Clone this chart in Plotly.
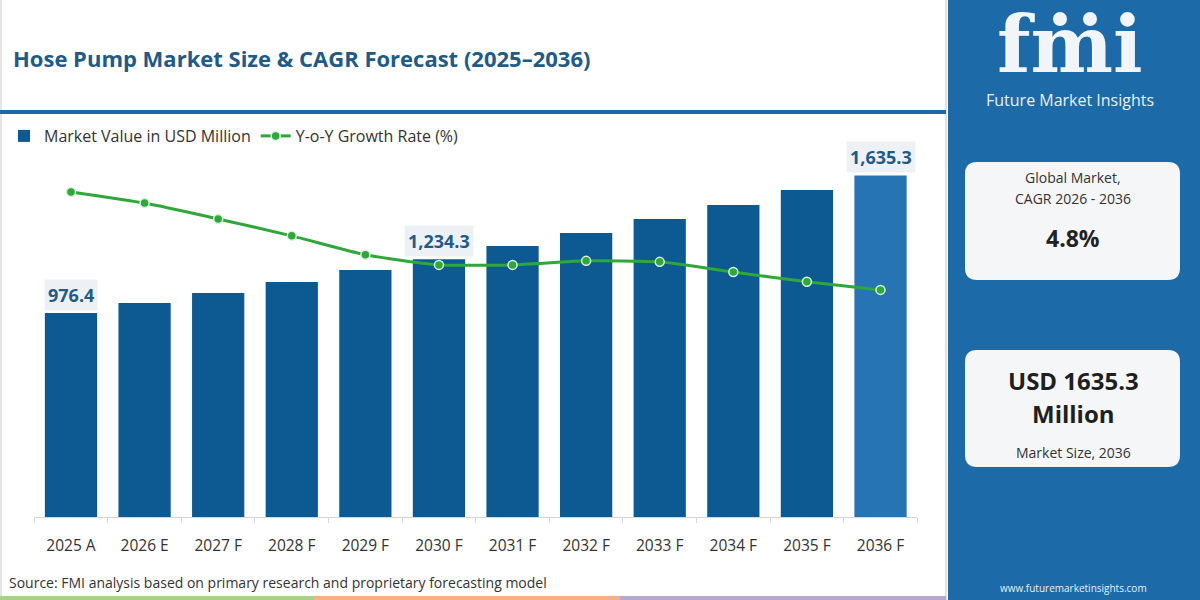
import plotly.graph_objects as go

# ---------------- data ----------------
years = ["2025 A", "2026 E", "2027 F", "2028 F", "2029 F", "2030 F",
         "2031 F", "2032 F", "2033 F", "2034 F", "2035 F", "2036 F"]
market_value = [976.4, 1024.0, 1072.0, 1125.0, 1182.0, 1234.3,
                1297.0, 1359.0, 1426.0, 1493.0, 1565.0, 1635.3]
yoy_growth = [6.20, 5.87, 5.40, 4.90, 4.34, 4.04,
              4.04, 4.16, 4.13, 3.83, 3.54, 3.30]
labelled_years = ["2025 A", "2030 F", "2036 F"]
labelled_text = ["976.4", "1,234.3", "1,635.3"]

title_text = "Hose Pump Market Size & CAGR Forecast (2025\u20132036)"
source_text = "Source: FMI analysis based on primary research and proprietary forecasting model"
cagr_lines = ["Global Market,", "CAGR 2026 - 2036"]
cagr_value = "4.8%"
size_value = ["USD 1635.3", "Million"]
size_caption = "Market Size, 2036"

# ---------------- styling ----------------
W, H = 1200, 600
FONT = "Open Sans"
BAR = "#0d5a93"
BAR_LAST = "#2774b4"
GREEN = "#2ea83a"
TITLE_C = "#1e5b88"
PANEL = "#1d6aa9"
TEXT = "#333333"


def px(x):
    return x / W


def py(y):
    return 1 - y / H


def rounded_rect(x0, y0, x1, y1, r):
    X0, X1 = px(x0), px(x1)
    Y0, Y1 = py(y0), py(y1)  # Y0 top (bigger), Y1 bottom
    rx, ry = r / W, r / H
    return (f"M{X0+rx},{Y0} L{X1-rx},{Y0} Q{X1},{Y0} {X1},{Y0-ry} "
            f"L{X1},{Y1+ry} Q{X1},{Y1} {X1-rx},{Y1} L{X0+rx},{Y1} "
            f"Q{X0},{Y1} {X0},{Y1+ry} L{X0},{Y0-ry} Q{X0},{Y0} {X0+rx},{Y0} Z")


bar_colors = [BAR] * (len(years) - 1) + [BAR_LAST]

fig = go.Figure()
fig.add_trace(go.Bar(
    x=years, y=market_value, name="Market Value in USD Million",
    marker=dict(color=bar_colors, line=dict(width=0)), width=0.71,
    yaxis="y",
))
fig.add_trace(go.Scatter(
    x=years, y=yoy_growth, name="Y-o-Y Growth Rate (%)", mode="lines+markers",
    line=dict(color=GREEN, width=3, shape="spline", smoothing=0.5),
    marker=dict(color=GREEN, size=9, line=dict(color="#d9f2dc", width=1.5)),
    yaxis="y2",
))

shapes = []
annotations = []

# right blue panel
shapes.append(dict(type="rect", xref="paper", yref="paper", x0=px(948), x1=px(1200),
                   y0=0, y1=1, fillcolor=PANEL, line=dict(width=0), layer="below"))
shapes.append(dict(type="line", xref="paper", yref="paper", x0=px(946), x1=px(946),
                   y0=0, y1=1, line=dict(color="#d8d8d8", width=1.5), layer="below"))
# blue rule under title
shapes.append(dict(type="line", xref="paper", yref="paper", x0=0, x1=px(946),
                   y0=py(112), y1=py(112), line=dict(color=PANEL, width=4)))
# left thin border
shapes.append(dict(type="line", xref="paper", yref="paper", x0=px(1), x1=px(1),
                   y0=0, y1=1, line=dict(color="#dddddd", width=1.5), layer="below"))
# bottom colored strip
for x0, x1, c in [(0, 314, "#a9d18e"), (314, 620, "#f4b183"), (620, 946, "#b4a7d6")]:
    shapes.append(dict(type="rect", xref="paper", yref="paper", x0=px(x0), x1=px(x1),
                       y0=0, y1=py(596), fillcolor=c, line=dict(width=0)))
# white info boxes
shapes.append(dict(type="path", xref="paper", yref="paper",
                   path=rounded_rect(965, 162, 1180, 280, 12),
                   fillcolor="#f5f6f8", line=dict(width=0)))
shapes.append(dict(type="path", xref="paper", yref="paper",
                   path=rounded_rect(965, 350, 1180, 467, 12),
                   fillcolor="#f5f6f8", line=dict(width=0)))
# logo globe dots above the "m"
for cx in [1060, 1090]:
    shapes.append(dict(type="circle", xref="paper", yref="paper",
                       x0=px(cx - 7), x1=px(cx + 7), y0=py(26), y1=py(12),
                       fillcolor="#f2f5f8", line=dict(width=0)))

# title
annotations.append(dict(text=f"<b>{title_text}</b>", xref="paper", yref="paper",
                        x=px(11), y=py(58), xanchor="left", yanchor="middle",
                        showarrow=False, font=dict(family=FONT, size=22, color=TITLE_C)))
# source
annotations.append(dict(text=source_text, xref="paper", yref="paper",
                        x=px(7), y=py(582), xanchor="left", yanchor="middle",
                        showarrow=False, font=dict(family=FONT, size=14, color=TEXT)))
# logo text
annotations.append(dict(text="<b>fmi</b>", xref="paper", yref="paper",
                        x=px(1070), y=py(44), xanchor="center", yanchor="middle",
                        height=70, valign="middle", showarrow=False,
                        font=dict(family="DejaVu Serif", size=78, color="#f2f5f8")))
annotations.append(dict(text="Future Market Insights", xref="paper", yref="paper",
                        x=px(1070), y=py(100), xanchor="center", yanchor="middle",
                        showarrow=False, font=dict(family=FONT, size=16, color="#e8eef5")))
annotations.append(dict(text="www.futuremarketinsights.com", xref="paper", yref="paper",
                        x=px(1073), y=py(588), xanchor="center", yanchor="middle",
                        showarrow=False, font=dict(family=FONT, size=10, color="#e8eef5")))
# box 1
for t, yy in zip(cagr_lines, [178, 198]):
    annotations.append(dict(text=t, xref="paper", yref="paper", x=px(1073), y=py(yy),
                            xanchor="center", yanchor="middle", showarrow=False,
                            font=dict(family=FONT, size=14, color=TEXT)))
annotations.append(dict(text=f"<b>{cagr_value}</b>", xref="paper", yref="paper",
                        x=px(1073), y=py(238), xanchor="center", yanchor="middle",
                        showarrow=False, font=dict(family=FONT, size=23, color="#222222")))
# box 2
for t, yy in zip(size_value, [380, 413]):
    annotations.append(dict(text=f"<b>{t}</b>", xref="paper", yref="paper", x=px(1073),
                            y=py(yy), xanchor="center", yanchor="middle", showarrow=False,
                            font=dict(family=FONT, size=24, color="#1f1f1f")))
annotations.append(dict(text=size_caption, xref="paper", yref="paper", x=px(1073),
                        y=py(452), xanchor="center", yanchor="middle", showarrow=False,
                        font=dict(family=FONT, size=14, color=TEXT)))
# bar value labels
for yr, txt in zip(labelled_years, labelled_text):
    v = market_value[years.index(yr)]
    annotations.append(dict(text=f"<b>{txt}</b>", x=yr, y=v, xref="x", yref="y",
                            xanchor="center", yanchor="middle", yshift=18,
                            showarrow=False, bgcolor="#edf1f5", borderpad=3,
                            font=dict(family=FONT, size=18, color=TITLE_C)))

fig.update_layout(
    width=W, height=H,
    margin=dict(l=0, r=0, t=0, b=0),
    paper_bgcolor="white", plot_bgcolor="rgba(0,0,0,0)",
    font=dict(family=FONT, color=TEXT),
    bargap=0.29,
    showlegend=True,
    legend=dict(orientation="h", x=px(4), y=py(136), xanchor="left", yanchor="middle",
                font=dict(family=FONT, size=16, color=TEXT), bgcolor="rgba(0,0,0,0)",
                itemwidth=30, tracegroupgap=0),
    xaxis=dict(domain=[px(34.2), px(917.3)], range=[-0.5, 11.5], type="category",
               showline=True, linecolor="#d6d6d6", linewidth=1,
               ticks="outside", tickson="boundaries", ticklen=5, tickcolor="#d6d6d6",
               tickfont=dict(family=FONT, size=15.5, color=TEXT),
               ticklabelstandoff=14, showgrid=False, fixedrange=True),
    yaxis=dict(domain=[py(517), py(150)], range=[0, 1756.8], visible=False,
               showgrid=False, fixedrange=True),
    yaxis2=dict(overlaying="y", range=[-3.42, 7.44], visible=False, showgrid=False,
                fixedrange=True),
    shapes=shapes,
    annotations=annotations,
)

fig.write_html("out.html", config={"displayModeBar": False},
               post_script="document.body.style.margin='0';"
                           "document.body.style.overflow='hidden';")
